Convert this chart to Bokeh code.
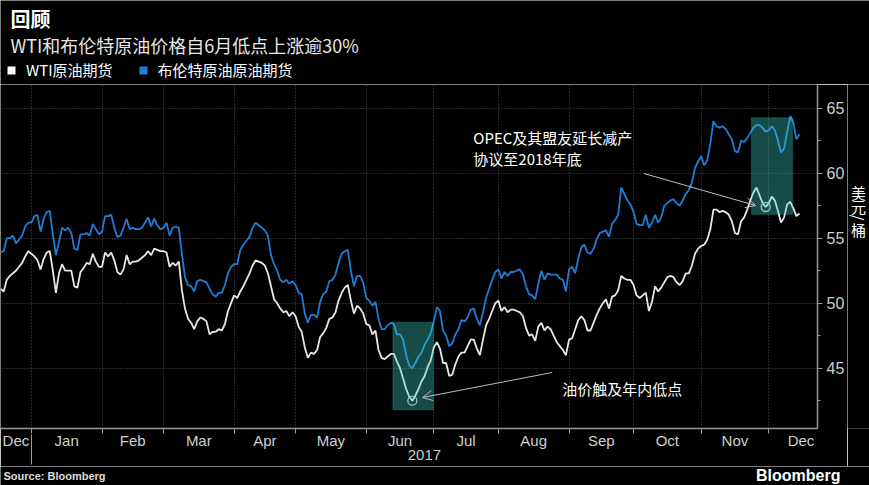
import numpy as np
import pandas as pd
from bokeh.plotting import figure
from bokeh.layouts import column, row
from bokeh.models import (ColumnDataSource, FixedTicker, Label, BoxAnnotation, Arrow,
                          OpenHead, Legend, LegendItem, Range1d, LinearAxis)
from bokeh.embed import file_html
from bokeh.resources import INLINE

# ---------------- data ----------------
start_date = "2016-12-16"   # first trading day shown (weekday series)

brent = [
    53.9, 54.0, 55.0, 55.0, 55.2, 54.6, 54.9, 55.2, 55.9, 56.2, 56.2,
    56.7, 56.8, 55.5, 56.5, 57.0, 57.1, 55.3, 53.7, 54.7, 55.8,
    55.6, 55.8, 55.4, 54.2, 54.1, 55.3, 55.3, 55.4, 55.2, 56.1,
    55.7, 55.3, 55.5, 56.7, 56.7, 56.8, 55.8, 55.1, 55.2, 55.8,
    56.5, 55.7, 55.8, 55.7, 55.7, 55.8, 56.2, 56.6, 55.9, 56.5,
    56.0, 55.7, 55.8, 56.2, 55.2, 55.8, 55.9, 55.8, 53.8, 52.0,
    51.4, 51.3, 50.9, 51.7, 51.8, 51.7, 51.6, 51.1, 50.7, 50.5,
    50.8, 50.8, 51.4, 52.3, 52.8, 53.0, 53.0, 54.1, 54.5, 54.8,
    55.1, 55.8, 56.2, 56.0, 55.8, 55.6, 55.2,
    53.7, 53.0, 52.5, 51.8, 51.6, 51.8, 51.5, 51.7, 51.4, 50.8,
    50.7, 49.2, 48.5, 49.1, 49.1, 48.9, 50.1, 50.7, 50.9, 51.7,
    51.8, 52.2, 53.1, 53.8, 54.0, 54.1, 52.5, 51.3, 52.1, 52.1,
    51.6, 50.4, 50.2, 49.8, 50.1, 48.8, 48.0, 48.0, 48.3, 48.5,
    48.4, 47.6, 47.6, 47.2, 46.0, 45.2, 45.0, 45.4, 45.9, 46.2,
    46.8, 47.2, 47.7, 48.6, 49.7, 49.4, 47.9, 47.5, 46.7, 46.9,
    47.6, 48.0, 48.7, 48.6, 48.9, 49.5, 49.6, 48.8, 48.3, 49.3,
    50.4, 51.1, 51.8, 52.4, 52.6, 51.9, 52.4, 52.1, 52.4, 52.4,
    52.5, 52.6, 52.2, 51.3, 50.7,
    50.6, 50.3, 51.5, 52.5, 51.8, 52.3, 52.2, 52.2, 52.2, 51.9,
    51.8, 50.9, 52.6, 52.8, 52.3, 53.4, 54.3, 54.5, 53.9, 53.8,
    54.2, 54.9, 55.4, 55.5, 55.6, 55.1, 56.1, 56.4, 56.8, 58.9,
    58.4, 57.9, 57.6, 57.0, 56.1, 56.0, 56.0, 56.8, 55.8, 56.2,
    56.8, 56.2, 56.6, 57.5, 57.7, 57.9, 58.0, 57.7, 57.5, 57.9,
    58.4, 58.7, 59.3, 60.4, 60.9, 61.3, 60.6, 61.0, 62.3, 64.0,
    63.6, 63.5, 63.6, 63.4, 63.0, 62.6, 61.7, 61.6, 62.5, 62.4,
    62.7, 63.1, 63.5, 63.7, 63.7, 63.5, 63.2, 63.3, 63.6, 63.3,
    62.5, 61.6, 61.9, 63.2, 64.4, 63.9, 62.6, 63.0,
]

wti = [
    51.1, 50.9, 51.8, 52.1, 52.3, 52.5, 52.8, 53.1, 53.6, 54.0, 53.8,
    53.6, 53.3, 52.6, 53.4, 53.9, 54.0, 52.5, 50.8, 52.3, 53.0,
    52.5, 52.5, 52.5, 51.3, 51.2, 52.4, 52.7, 53.1, 53.0, 53.8,
    53.2, 52.8, 52.8, 53.9, 53.6, 53.9, 53.3, 52.4, 52.2, 52.6,
    53.7, 53.0, 53.2, 53.2, 53.3, 53.5, 53.7, 54.0, 53.7, 54.2,
    54.1, 54.0, 54.0, 53.9, 52.8, 53.1, 52.9, 53.2, 51.0, 49.6,
    48.8, 48.5, 48.0, 48.6, 48.9, 48.8, 48.6, 47.6, 47.8, 47.8,
    48.0, 47.9, 48.4, 49.4, 50.0, 50.6, 50.4, 50.9, 51.3, 51.8,
    52.3, 52.9, 53.3, 53.2, 53.1, 52.9, 52.3,
    51.3, 50.3, 50.0, 49.6, 49.3, 49.4, 49.0, 49.3, 49.0, 48.2,
    47.8, 46.6, 45.8, 46.2, 46.1, 46.4, 47.4, 47.7, 48.1, 48.8,
    48.9, 49.3, 50.2, 50.8, 51.2, 51.4, 50.2, 49.2, 49.8, 49.6,
    49.2, 48.4, 48.3, 47.6, 47.9, 46.4, 45.8, 45.7, 45.9, 46.1,
    46.1, 45.5, 45.0, 44.2, 43.4, 42.8, 42.5, 42.9, 43.4, 44.0,
    44.4, 45.1, 45.6, 46.6, 47.0, 46.5, 45.4, 45.4, 44.4, 44.5,
    45.3, 45.9, 46.2, 46.2, 46.7, 47.2, 47.2, 46.5, 46.0, 47.2,
    48.3, 48.8, 49.4, 50.0, 50.2, 49.4, 49.7, 49.3, 49.5, 49.5,
    49.4, 49.3, 49.0, 48.1, 47.5,
    47.6, 47.1, 48.2, 48.5, 47.9, 48.2, 48.0, 47.5, 47.0, 46.7,
    46.4, 46.0, 47.2, 47.3, 48.0, 48.7, 49.0, 48.7, 47.9, 47.9,
    48.5, 49.1, 49.6, 50.0, 50.3, 49.6, 50.5, 50.6, 51.0, 52.1,
    51.9, 51.8, 51.8, 51.4, 50.6, 50.4, 50.6, 50.8, 49.4, 50.1,
    51.3, 50.9, 51.2, 51.6, 52.0, 52.1, 52.0, 51.6, 51.4, 51.7,
    52.3, 52.3, 52.9, 53.8, 54.2, 54.4, 54.5, 54.9, 55.7, 57.2,
    57.2, 57.0, 57.1, 57.0, 56.8, 56.3, 55.4, 55.3, 56.3, 56.6,
    57.2, 57.9, 58.5, 58.9, 58.3, 57.7, 57.4, 57.7, 58.2, 57.9,
    57.1, 56.2, 56.6, 57.6, 57.8, 57.3, 56.7, 56.9,
]

month_names = ["Dec", "Jan", "Feb", "Mar", "Apr", "May", "Jun",
               "Jul", "Aug", "Sep", "Oct", "Nov", "Dec"]
month_starts = ["2016-12-01", "2017-01-01", "2017-02-01", "2017-03-01", "2017-04-01",
                "2017-05-01", "2017-06-01", "2017-07-01", "2017-08-01", "2017-09-01",
                "2017-10-01", "2017-11-01", "2017-12-01", "2018-01-01"]
year_label = "2017"
y_ticks = [45, 50, 55, 60, 65]
y_minor = [42.5, 47.5, 52.5, 57.5, 62.5]
low_month = ("2017-06-01", "2017-07-01")
opec_date = "2017-11-30"

title_text = "回顾"
subtitle_text = "WTI和布伦特原油价格自6月低点上涨逾30%"
wti_name = "WTI原油期货"
brent_name = "布伦特原油原油期货"
note_low = "油价触及年内低点"
note_opec = ["OPEC及其盟友延长减产", "协议至2018年底"]
unit_chars = ["美", "元", "/", "桶"]
source_text = "Source: Bloomberg"
brand_text = "Bloomberg"

# ---------------- helpers (reference-pixel -> data coords) ----------------
BASE = np.datetime64("2017-01-02")
PX0, PX_PER_DAY = 34.0, 3.08
PY65, PX_PER_USD = 107.7, 13.0


def rx(px):
    return (px - PX0) / PX_PER_DAY


def ry(py):
    return 65 - (py - PY65) / PX_PER_USD


dates = pd.bdate_range(start_date, periods=len(brent)).values.astype("datetime64[D]")
day = np.busday_count(BASE, dates)
bounds = [int(np.busday_count(BASE, np.datetime64(d))) for d in month_starts]

x0, x1 = rx(0), rx(819)
mids = [(bounds[i] + bounds[i + 1]) / 2 for i in range(len(month_names))]
mids[0] = (x0 + bounds[1]) / 2
year_mid = (bounds[1] + x1) / 2

src = ColumnDataSource(dict(day=day, brent=brent, wti=wti))

FONT_CJK = "Noto Sans CJK SC"
FONT_AX = "Liberation Sans"
BLUE = "#1e7dd7"
AXIS_GREY = "#9a9a9a"
TICK_TXT = "#cfcfcf"

W_TOTAL = 869
HEAD_H = 84
FRAME_BOTTOM = 428
MAIN_H = 382
BOTTOM_BORDER = MAIN_H - (FRAME_BOTTOM - HEAD_H)
FOOT_H = 485 - HEAD_H - MAIN_H
SIDE_W = 22
MAIN_W = W_TOTAL - SIDE_W


def blank(width, height, xr, yr, bottom=0):
    f = figure(width=width, height=height, output_backend="svg", toolbar_location=None,
               x_range=Range1d(*xr), y_range=Range1d(*yr),
               x_axis_type=None, y_axis_type=None,
               min_border_left=0, min_border_right=0, min_border_top=0,
               min_border_bottom=bottom,
               background_fill_color="black", border_fill_color="black")
    f.outline_line_color = None
    return f


def lab(fig, x, y, text, size, color="white", style="normal", align="left",
        font=FONT_CJK, angle=0):
    fig.add_layout(Label(x=x, y=y, text=text, text_font_size=size, text_color=color,
                         text_font_style=style, text_align=align, text_baseline="middle",
                         text_font=font, angle=angle))


# ---------------- header (pixel coordinates, y down) ----------------
head = blank(W_TOTAL, HEAD_H, (0, W_TOTAL), (HEAD_H, 0))
lab(head, 10, 18, title_text, "20px", style="bold")
lab(head, 10, 44, subtitle_text, "18px", color="#e6e6e6")
# legend swatch renderers (their single quad lies outside the visible range)
r_w = head.quad(left=[-20], right=[-10], top=[-20], bottom=[-10],
                fill_color="#ffffff", line_color=None)
r_b = head.quad(left=[-20], right=[-10], top=[-20], bottom=[-10],
                fill_color=BLUE, line_color=None)
legend = Legend(items=[LegendItem(label=wti_name, renderers=[r_w]),
                       LegendItem(label=brent_name, renderers=[r_b])],
                location=(6, 4), orientation="horizontal",
                glyph_width=10, glyph_height=10, label_standoff=10, spacing=25,
                padding=0, margin=0, border_line_color=None, background_fill_alpha=0,
                label_text_color="white", label_text_font=FONT_CJK,
                label_text_font_size="15px", label_height=20)
head.add_layout(legend, "center")

# ---------------- main chart ----------------
chart = figure(width=MAIN_W, height=MAIN_H, output_backend="svg", toolbar_location=None,
               x_range=Range1d(x0, x1), y_range=Range1d(ry(FRAME_BOTTOM), ry(HEAD_H)),
               y_axis_location="right",
               background_fill_color="black", border_fill_color="black",
               min_border_left=0, min_border_right=MAIN_W - 819,
               min_border_top=0, min_border_bottom=BOTTOM_BORDER)
chart.outline_line_color = None

xa = chart.xaxis[0]
xa.ticker = FixedTicker(ticks=mids, minor_ticks=bounds)
xa.major_label_overrides = {m: n for m, n in zip(mids, month_names)}
xa.major_tick_line_color = None
xa.major_tick_out = 0
xa.major_tick_in = 0
xa.minor_tick_line_color = AXIS_GREY
xa.minor_tick_out = 5
xa.minor_tick_in = 0
xa.axis_line_color = AXIS_GREY
xa.axis_line_width = 1.5
xa.major_label_standoff = -2
xa.major_label_text_font = FONT_AX
xa.major_label_text_font_size = "15px"
xa.major_label_text_color = TICK_TXT

xa2 = LinearAxis(ticker=FixedTicker(ticks=[year_mid], minor_ticks=[bounds[1]]),
                 major_label_overrides={year_mid: year_label},
                 axis_line_color=None, major_tick_line_color=None,
                 major_tick_out=0, major_tick_in=0,
                 minor_tick_in=17, minor_tick_out=13, minor_tick_line_color=AXIS_GREY,
                 major_label_standoff=-15, major_label_text_font=FONT_AX,
                 major_label_text_font_size="15px", major_label_text_color=TICK_TXT)
chart.add_layout(xa2, "below")

ya = chart.yaxis[0]
ya.ticker = FixedTicker(ticks=y_ticks, minor_ticks=y_minor)
ya.major_tick_out = 5
ya.major_tick_in = 0
ya.minor_tick_out = 3
ya.minor_tick_in = 0
ya.major_tick_line_color = AXIS_GREY
ya.minor_tick_line_color = AXIS_GREY
ya.axis_line_color = AXIS_GREY
ya.axis_line_width = 1.5
ya.major_label_standoff = 4
ya.major_label_text_font = FONT_AX
ya.major_label_text_font_size = "16px"
ya.major_label_text_color = TICK_TXT

chart.xgrid.ticker = FixedTicker(ticks=bounds)
chart.ygrid.ticker = FixedTicker(ticks=y_ticks)
for g in (chart.xgrid[0], chart.ygrid[0]):
    g.grid_line_color = "#4f4f4f"
    g.grid_line_dash = "1 2"
    g.grid_line_width = 1

chart.line("day", "brent", source=src, line_color=BLUE, line_width=1.8)
chart.line("day", "wti", source=src, line_color="#e8e8e8", line_width=1.8)

box_kw = dict(fill_color="#3cd0c8", fill_alpha=0.36, line_color="#34d8d2",
              line_dash="1 1", line_width=1.5)
chart.add_layout(BoxAnnotation(left=rx(393.3), right=rx(434), top=ry(321.7),
                               bottom=ry(409.3), **box_kw))
chart.add_layout(BoxAnnotation(left=rx(752.7), right=rx(794), top=ry(117.3),
                               bottom=ry(214), **box_kw))

w = np.array(wti)
in_low = (dates >= np.datetime64(low_month[0])) & (dates < np.datetime64(low_month[1]))
i_low = int(np.flatnonzero(in_low)[np.argmin(w[in_low])])
i_opec = int(np.flatnonzero(dates == np.datetime64(opec_date))[0])
chart.scatter(x=[day[i_low], day[i_opec]], y=[wti[i_low], wti[i_opec]], size=9,
              fill_color=None, line_color="#c0c0c0", line_width=1.3)

for (sx, sy, ex, ey) in [(553, 372, 423, 397), (645, 173, 757, 205)]:
    chart.add_layout(Arrow(end=OpenHead(size=10, line_color="#bdbdbd", line_width=1),
                           x_start=rx(sx), y_start=ry(sy), x_end=rx(ex), y_end=ry(ey),
                           line_color="#bdbdbd", line_width=1))

lab(chart, rx(563), ry(388), note_low, "15px")
lab(chart, rx(474), ry(137), note_opec[0], "15px")
lab(chart, rx(474), ry(158), note_opec[1], "15px")

# ---------------- unit label column (pixel coordinates, y down) ----------------
# its frame is aligned with the chart frame (same bottom border)
side = blank(SIDE_W, MAIN_H, (MAIN_W, W_TOTAL), (FRAME_BOTTOM, HEAD_H), bottom=BOTTOM_BORDER)
for ch, yy in zip(unit_chars, [192, 206, 217, 229]):
    lab(side, 858, yy, ch, "15px", align="center",
        angle=(-np.pi / 2 if ch == "/" else 0))

# ---------------- footer (pixel coordinates, y down) ----------------
foot = blank(W_TOTAL, FOOT_H, (0, W_TOTAL), (FOOT_H, 0))
lab(foot, 3, 9.5, source_text, "11px", color="#dddddd", style="bold", font=FONT_AX)
lab(foot, 840, 8.5, brand_text, "16px", color="white", style="bold", align="right",
    font=FONT_AX)

p = column(head, row(chart, side), foot)

open("out.html", "w").write(file_html(p, INLINE))
